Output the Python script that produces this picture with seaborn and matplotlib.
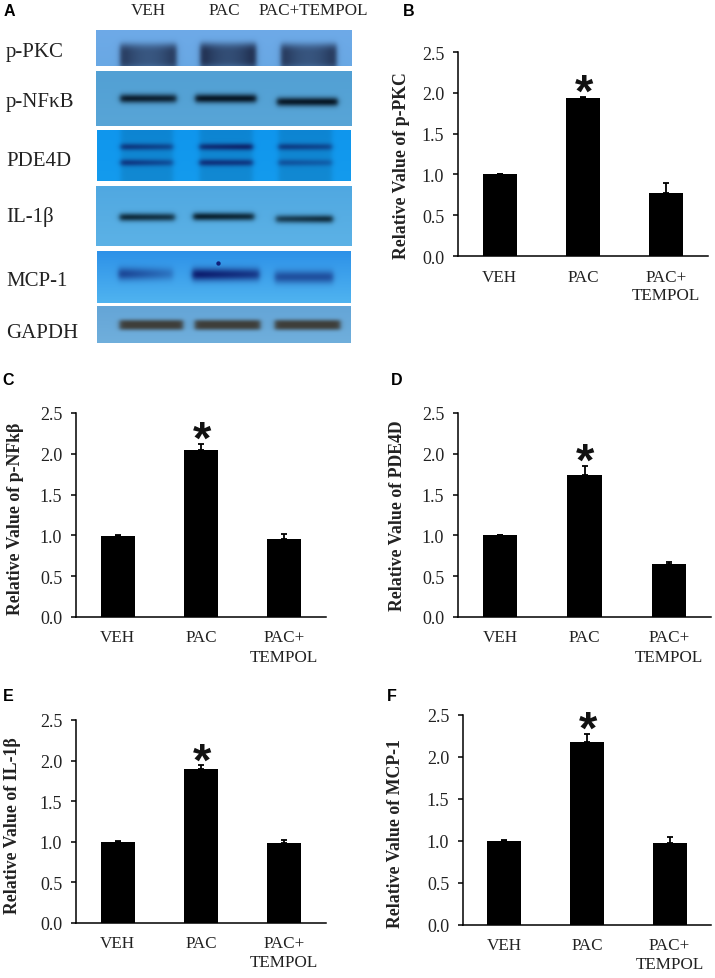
import numpy as np
import matplotlib
matplotlib.use('Agg')
import matplotlib.pyplot as plt
import seaborn as sns

W, H = 715, 979

categories = ['VEH', 'PAC', 'PAC+\nTEMPOL']
blot_headers = ['VEH', 'PAC', 'PAC+TEMPOL']
ticks = [0.0, 0.5, 1.0, 1.5, 2.0, 2.5]

# bar heights and upper error bars
pkc_vals = [1.00, 1.94, 0.77]
pkc_err = [0.01, 0.01, 0.12]
nfkb_vals = [0.99, 2.05, 0.96]
nfkb_err = [0.01, 0.07, 0.06]
pde_vals = [1.00, 1.74, 0.65]
pde_err = [0.01, 0.11, 0.02]
il_vals = [1.00, 1.90, 0.98]
il_err = [0.01, 0.04, 0.04]
mcp_vals = [1.00, 2.18, 0.98]
mcp_err = [0.01, 0.09, 0.07]

# blot bands: lane start, lane end, height in blot, strength left, strength right
pkc_bands = [(.095, .314, .74, .90, .90), (.408, .625, .72, 1.0, 1.0), (.723, .939, .74, .92, .92)]
nfkb_bands = [(.095, .314, .50, .95, .90), (.388, .626, .50, 1.0, 1.0), (.707, .944, .56, .97, 1.0)]
pde_bands = [(.094, .299, .33, .80, .60), (.094, .299, .64, .85, .55),
             (.404, .613, .33, .85, 1.0), (.404, .613, .64, .90, .80),
             (.715, .925, .33, .75, .60), (.715, .925, .64, .55, .40)]
il_bands = [(.093, .308, .52, .92, .82), (.380, .618, .51, 1.0, .90), (.703, .925, .55, .75, .90)]
mcp_bands = [(.085, .300, .44, .70, .30), (.375, .640, .45, 1.0, .75), (.700, .930, .50, .60, .60)]
gapdh_bands = [(.089, .339, .51, 1.0, 1.0), (.385, .643, .51, 1.0, 1.0), (.700, .958, .51, 1.0, 1.0)]

sns.set_theme(style='ticks')
plt.rcParams['font.family'] = ['Liberation Serif', 'DejaVu Serif']
ink = '#222222'

fig = plt.figure(figsize=(W / 100, H / 100), dpi=100, facecolor='white')


def px_axes(left, top, right, bottom):
    return fig.add_axes([left / W, 1 - bottom / H, (right - left) / W, (bottom - top) / H])


def px_text(x, y, s, **kw):
    kw.setdefault('color', ink)
    fig.text(x / W, 1 - y / H, s, **kw)


def draw_blot(box, label, label_y, top, bottom, dark, bands, sigma, power=2, hollow=0.0, lane_shade=0.0):
    left, up, right, down = box
    w, h = int(right - left), int(down - up)
    yy, xx = np.mgrid[0:h, 0:w]
    fx, fy = (xx + .5) / w, (yy + .5) / h
    img = np.array(top)[None, None, :] * (1 - fy[..., None]) + np.array(bottom)[None, None, :] * fy[..., None]
    dark = np.array(dark, dtype=float)
    for x0, x1, yc, s0, s1 in bands:
        t = np.clip((fx - x0) / (x1 - x0), 0, 1)
        window = 1 / (1 + np.exp(-(fx - x0) * w / 1.5)) * 1 / (1 + np.exp((fx - x1) * w / 1.5))
        strength = (s0 + (s1 - s0) * t) * (1 - hollow * 4 * t * (1 - t))
        prof = np.exp(-0.5 * np.abs((yy + .5 - yc * h) / sigma) ** power)
        d = np.clip(strength * window * prof, 0, 1)[..., None]
        img = img * (1 - d) + dark * d
        if lane_shade:
            img = img * (1 - lane_shade * window[..., None])
    ax = px_axes(left, up, right, down)
    ax.imshow(np.clip(img, 0, 255).astype(np.uint8), aspect='auto', interpolation='bilinear')
    ax.axis('off')
    px_text(6, label_y, label, fontsize=15, va='center', ha='left')
    return ax


# panel A
draw_blot((96, 31, 351, 67), 'p-PKC', 53, (110, 170, 232), (105, 168, 228), (25, 35, 65), pkc_bands,
          sigma=11, power=4, hollow=.32)
draw_blot((96, 72, 352, 127), 'p-NF\u03baB', 103, (82, 160, 212), (88, 165, 215), (8, 25, 40), nfkb_bands,
          sigma=3.2)
draw_blot((97, 131, 351, 182), 'PDE4D', 161, (15, 150, 238), (20, 155, 238), (15, 45, 125), pde_bands,
          sigma=2.5, lane_shade=.06)
draw_blot((96, 187, 351, 247), 'IL-1\u03b2', 217, (80, 168, 225), (92, 178, 230), (10, 35, 50), il_bands,
          sigma=2.9)
mcp_ax = draw_blot((97, 252, 351, 304), 'MCP-1', 281, (45, 145, 232), (80, 180, 240), (12, 28, 110), mcp_bands,
                   sigma=4.5, power=2)
mcp_ax.scatter([120], [11], s=10, color='#10207a', linewidths=0)
draw_blot((97, 307, 351, 344), 'GAPDH', 334, (100, 165, 215), (112, 175, 220), (62, 62, 58), gapdh_bands,
          sigma=4.2, power=3)

for x, s in zip([148, 224, 313], blot_headers):
    px_text(x, 11, s, fontsize=12.3, ha='center', va='center')

panels = [
    ('B', (409, 12), (458, 53, 708, 257), 'Relative Value of p-PKC', (401, 166), pkc_vals, pkc_err),
    ('C', (8, 381), (76, 414, 326, 618), 'Relative Value of p-NFk\u03b2', (16, 519), nfkb_vals, nfkb_err),
    ('D', (397, 381), (458, 414, 711, 618), 'Relative Value of PDE4D', (397, 516), pde_vals, pde_err),
    ('E', (8, 697), (76, 721, 326, 924), 'Relative Value of IL-1\u03b2', (13, 826), il_vals, il_err),
    ('F', (392, 697), (463, 716, 711, 926), 'Relative Value of MCP-1', (396, 834), mcp_vals, mcp_err),
]

for letter, letter_xy, box, ylabel, ylabel_xy, vals, errs in panels:
    ax = px_axes(*box)
    sns.barplot(x=categories, y=vals, color='black', saturation=1, width=.41, linewidth=0, ax=ax)
    ax.errorbar(range(3), vals, yerr=[[0, 0, 0], errs], fmt='none', ecolor='black',
                elinewidth=1.3, capsize=2.5, capthick=1.3)
    ax.annotate('*', xy=(1, vals[1] + errs[1]), xytext=(0.5, -13.5), textcoords='offset points',
                ha='center', va='bottom', fontsize=34, fontweight='bold', color='#111111',
                family='Liberation Sans')
    ax.set_xlim(-.5, 2.5)
    ax.set_ylim(0, 2.5)
    ax.set_yticks(ticks)
    ax.set_yticklabels(['%.1f' % t for t in ticks], fontsize=13, color=ink)
    ax.tick_params(axis='y', length=3.4, width=1.1, color='black', pad=6.5)
    ax.tick_params(axis='x', length=0, pad=9, labelsize=12.3, labelcolor=ink)
    for lab in ax.get_xticklabels():
        lab.set_linespacing(1.25)
    ax.set_ylabel('')
    ax.set_xlabel('')
    sns.despine(ax=ax)
    ax.spines['left'].set_linewidth(1.1)
    ax.spines['bottom'].set_linewidth(1.1)
    ax.spines['left'].set_color('black')
    ax.spines['bottom'].set_color('black')
    px_text(ylabel_xy[0], ylabel_xy[1], ylabel, fontsize=12.8, fontweight='bold', rotation=90,
            ha='center', va='center')

for letter, xy in [('A', (9, 12))] + [(p[0], p[1]) for p in panels]:
    px_text(xy[0], xy[1], letter, fontsize=11.5, fontweight='bold', family='Liberation Sans',
            ha='center', va='center', color='black')

fig.savefig('out.png', dpi=100)
